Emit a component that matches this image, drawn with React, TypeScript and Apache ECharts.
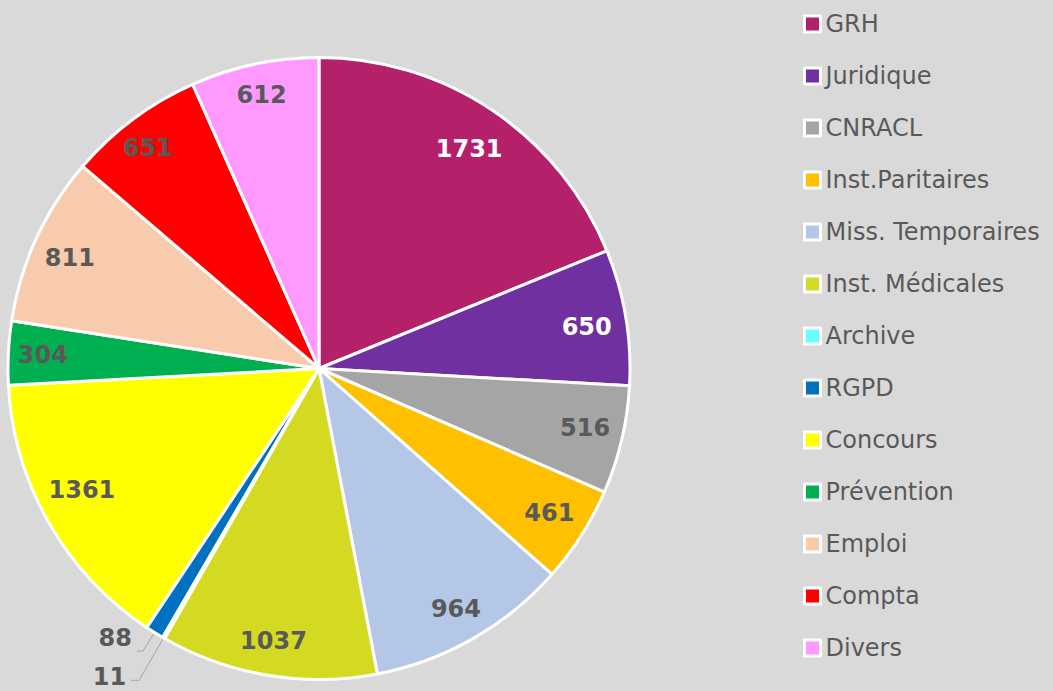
import React, { useEffect, useRef } from "react";
import * as echarts from "echarts";

const categories = [
  "GRH",
  "Juridique",
  "CNRACL",
  "Inst.Paritaires",
  "Miss. Temporaires",
  "Inst. Médicales",
  "Archive",
  "RGPD",
  "Concours",
  "Prévention",
  "Emploi",
  "Compta",
  "Divers",
];
const values = [1731, 650, 516, 461, 964, 1037, 11, 88, 1361, 304, 811, 651, 612];
const colors = [
  "#B4216A",
  "#7030A0",
  "#A5A5A5",
  "#FFC000",
  "#B4C7E7",
  "#D4DA22",
  "#66FFFF",
  "#0070C0",
  "#FFFF00",
  "#00B050",
  "#F8CBAD",
  "#FF0000",
  "#FF99FF",
];
const whiteLabels = ["GRH", "Juridique"];
const outsideLabels = ["Archive", "RGPD"];

// small label nudges (style only)
const labelNudge: Record<string, [number, number]> = {
  GRH: [-4, 10],
  Juridique: [-5, 4],
  CNRACL: [-3, -4],
  "Inst.Paritaires": [-3, -4],
  Concours: [3, -16],
  Emploi: [2, 5],
  Compta: [-6, 1],
  Divers: [0, -3],
};
const outsideLine: Record<string, { length: number; length2: number; dy: number }> = {
  RGPD: { length: 22, length2: 6, dy: -13 },
  Archive: { length: 49, length2: 8, dy: -3 },
};

const FONT = "'DejaVu Sans', Verdana, sans-serif";
const LABEL_GRAY = "#595959";

export default function App() {
  const ref = useRef<HTMLDivElement>(null);
  useEffect(() => {
    document.body.style.margin = "0";
    const chart = echarts.init(ref.current!, undefined, { renderer: "svg" });
    const mainData = categories.map((name, i) => {
      const outside = outsideLabels.includes(name);
      return {
        name,
        value: values[i],
        itemStyle: { color: colors[i] },
        label: outside
          ? {
              show: true,
              position: "outside",
              formatter: "{c}",
              color: LABEL_GRAY,
              fontSize: 24,
              fontWeight: "bold",
              fontFamily: FONT,
            }
          : { show: false },
        labelLine: outside
          ? {
              show: true,
              length: outsideLine[name].length,
              length2: outsideLine[name].length2,
              lineStyle: { color: "#A6A6A6", width: 1 },
            }
          : { show: false },
      };
    });
    const ringData = categories.map((name, i) => ({
      name,
      value: values[i],
      label: {
        show: !outsideLabels.includes(name),
        color: whiteLabels.includes(name) ? "#FFFFFF" : LABEL_GRAY,
        offset: labelNudge[name] || [0, 0],
      },
    }));
    chart.setOption({
      animation: false,
      backgroundColor: "#D9D9D9",
      legend: {
        orient: "vertical",
        left: 798,
        top: 7,
        itemWidth: 16,
        itemHeight: 16,
        itemGap: 28,
        icon: "rect",
        data: categories,
        itemStyle: { borderColor: "#FFFFFF", borderWidth: 3 },
        textStyle: {
          fontSize: 24,
          lineHeight: 24,
          color: LABEL_GRAY,
          fontFamily: FONT,
        },
      },
      series: [
        {
          type: "pie",
          center: [319, 368.5],
          radius: [0, 311],
          startAngle: 90,
          clockwise: true,
          avoidLabelOverlap: false,
          itemStyle: { borderColor: "#FFFFFF", borderWidth: 3 },
          labelLayout: (params: any) => {
            const name = categories[params.dataIndex];
            const cfg = outsideLine[name];
            return cfg && cfg.dy ? { dy: cfg.dy } : {};
          },
          data: mainData,
        },
        {
          type: "pie",
          center: [319, 368.5],
          radius: [236, 311],
          startAngle: 90,
          clockwise: true,
          silent: true,
          legendHoverLink: false,
          itemStyle: { color: "transparent", borderWidth: 0 },
          label: {
            position: "inside",
            formatter: "{c}",
            fontSize: 24,
            fontWeight: "bold",
            fontFamily: FONT,
          },
          labelLine: { show: false },
          data: ringData,
        },
      ],
    });
    return () => chart.dispose();
  }, []);
  return (
    <div
      ref={ref}
      style={{ position: "fixed", left: 0, top: 0, width: 1053, height: 691 }}
    />
  );
}
